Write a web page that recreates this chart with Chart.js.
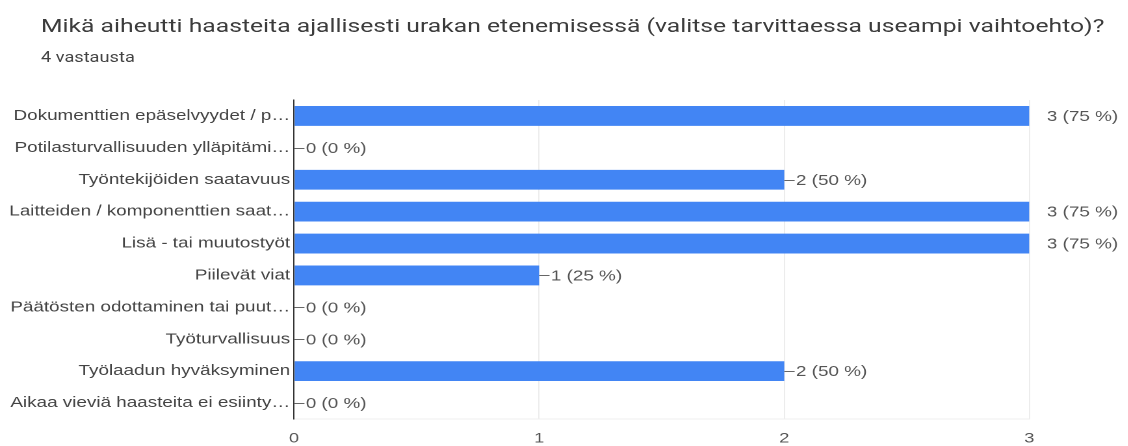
<!DOCTYPE html>
<html lang="fi">
<head>
<meta charset="utf-8">
<script src="https://cdn.jsdelivr.net/npm/chart.js@4.4.1/dist/chart.umd.min.js"></script>
<style>
  html, body { margin: 0; padding: 0; background: #fff; overflow: hidden; }
  body { width: 1128px; height: 446px; position: relative; }
  /* the whole panel is laid out narrow and widened horizontally */
  #panel {
    position: absolute; left: 0; top: 0;
    width: 868px; height: 446px;
    transform: scaleX(1.3); transform-origin: 0 0;
  }
  #title {
    position: absolute; left: 31.5px; top: 16px;
    font: 19px/19px Roboto, sans-serif; color: #3c3c3c; white-space: nowrap;
  }
  #subtitle {
    position: absolute; left: 31.5px; top: 50px;
    font: 14px/14px Roboto, sans-serif; color: #444; white-space: nowrap;
  }
  #chart { position: absolute; left: 0; top: 0; }
</style>
</head>
<body>
<div id="panel">
  <div id="title">Mikä aiheutti haasteita ajallisesti urakan etenemisessä (valitse tarvittaessa useampi vaihtoehto)?</div>
  <div id="subtitle">4 vastausta</div>
  <canvas id="chart" width="868" height="446"></canvas>
</div>
<script>
// Answer options (labels as shown, long ones shortened) and their counts
const categories = [
  'Dokumenttien epäselvyydet / p…',
  'Potilasturvallisuuden ylläpitämi…',
  'Työntekijöiden saatavuus',
  'Laitteiden / komponenttien saat…',
  'Lisä - tai muutostyöt',
  'Piilevät viat',
  'Päätösten odottaminen tai puut…',
  'Työturvallisuus',
  'Työlaadun hyväksyminen',
  'Aikaa vieviä haasteita ei esiinty…'
];
const counts = [3, 0, 2, 3, 3, 1, 0, 0, 2, 0];
const respondents = 4;
const xTicks = [0, 1, 2, 3];

const fontFamily = '"Liberation Sans", Arial, sans-serif';
const labelFont = '14.5px ' + fontFamily;

// Writes "n (p %)" after every bar, with a short leader line for the shorter bars
const valueLabels = {
  id: 'valueLabels',
  afterDatasetsDraw(chart) {
    const { ctx } = chart;
    const meta = chart.getDatasetMeta(0);
    const data = chart.data.datasets[0].data;
    const max = Math.max(...data);
    ctx.save();
    ctx.font = labelFont;
    ctx.textBaseline = 'middle';
    ctx.textAlign = 'left';
    meta.data.forEach((bar, i) => {
      const v = data[i];
      const pct = Math.round(v / respondents * 100);
      const text = v + ' (' + pct + ' %)';
      const x = bar.x;
      const y = bar.y;
      let tx;
      if (v < max) {
        ctx.strokeStyle = '#666';
        ctx.lineWidth = 1;
        ctx.beginPath();
        ctx.moveTo(x, Math.round(y) + 0.5);
        ctx.lineTo(x + 8, Math.round(y) + 0.5);
        ctx.stroke();
        tx = x + 9;
      } else {
        tx = x + 13.5;
      }
      ctx.fillStyle = '#555';
      ctx.fillText(text, tx, y + 1);
    });
    ctx.restore();
  }
};

new Chart(document.getElementById('chart'), {
  type: 'bar',
  data: {
    labels: categories,
    datasets: [{
      data: counts,
      backgroundColor: '#4285f4',
      borderWidth: 0,
      barPercentage: 0.62,
      categoryPercentage: 1.0
    }]
  },
  plugins: [valueLabels],
  options: {
    indexAxis: 'y',
    responsive: false,
    animation: false,
    devicePixelRatio: 2,
    layout: { padding: { top: 100, right: 76.2, bottom: 0, left: 0 } },
    plugins: {
      legend: { display: false },
      tooltip: { enabled: false }
    },
    scales: {
      x: {
        min: 0,
        max: 3,
        afterBuildTicks(scale) { scale.ticks = xTicks.map(v => ({ value: v })); },
        afterFit(scale) { scale.height = 27; },
        grid: { color: '#ececec', drawTicks: false, lineWidth: 1 },
        border: { display: true, color: '#efefef' },
        ticks: {
          padding: 11,
          color: '#555',
          font: { family: fontFamily, size: 14 }
        }
      },
      y: {
        afterFit(scale) { scale.width = 226.2; },
        grid: { display: false, drawTicks: false },
        border: { display: true, color: '#333', width: 1 },
        ticks: {
          padding: 3,
          color: '#444',
          autoSkip: false,
          font: { family: fontFamily, size: 14.5 }
        }
      }
    }
  }
});
</script>
</body>
</html>
